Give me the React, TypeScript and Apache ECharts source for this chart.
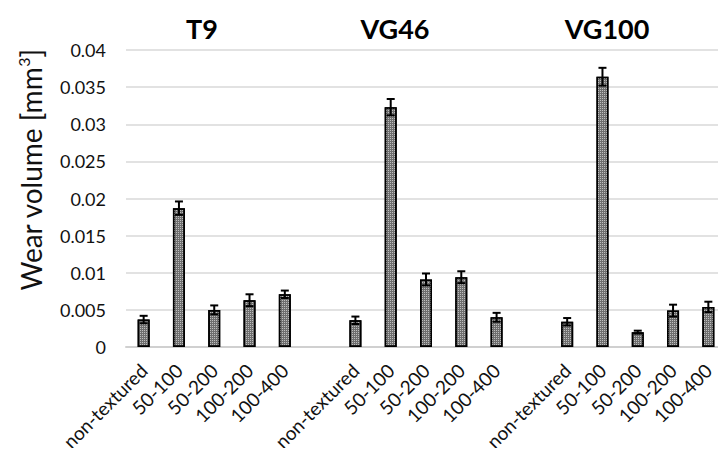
import React, { useEffect, useRef } from "react";
import * as echarts from "echarts";

const textures = ["non-textured", "50-100", "50-200", "100-200", "100-400"];
const groups = ["T9", "VG46", "VG100"];
const t9Values = [0.0037, 0.0187, 0.005, 0.0063, 0.0071];
const t9Errors = [0.0005, 0.0009, 0.0006, 0.0008, 0.0005];
const vg46Values = [0.0036, 0.0323, 0.0091, 0.0094, 0.004];
const vg46Errors = [0.0005, 0.0011, 0.0008, 0.0008, 0.0006];
const vg100Values = [0.0034, 0.0364, 0.002, 0.0049, 0.0054];
const vg100Errors = [0.0005, 0.0012, 0.0002, 0.0008, 0.0007];
const yTicks = [0, 0.005, 0.01, 0.015, 0.02, 0.025, 0.03, 0.035, 0.04];

const FONT = "Lato";

export default function App() {
  const ref = useRef<HTMLDivElement>(null);
  useEffect(() => {
    if (!ref.current) return;
    const chart = echarts.init(ref.current, undefined, { renderer: "svg" });
    const valueSets = [t9Values, vg46Values, vg100Values];
    const errorSets = [t9Errors, vg46Errors, vg100Errors];
    const categories: string[] = [];
    const barData: (number | string)[] = [];
    const errData: number[][] = [];
    groups.forEach((g, gi) => {
      if (gi > 0) {
        categories.push(" ".repeat(gi));
        barData.push("-");
      }
      textures.forEach((t, ti) => {
        const idx = categories.length;
        categories.push(t);
        barData.push(valueSets[gi][ti]);
        errData.push([idx, valueSets[gi][ti], errorSets[gi][ti]]);
      });
    });
    const titleX = [202, 395, 607];

    chart.setOption({
      animation: false,
      backgroundColor: "#fff",
      grid: { left: 126, right: -12, top: 50, bottom: 109, containLabel: false },
      xAxis: {
        type: "category",
        data: categories,
        axisLine: { lineStyle: { color: "#d0d0d0", width: 2 } },
        axisTick: { show: false },
        axisLabel: {
          interval: 0,
          rotate: 45,
          margin: 20,
          fontFamily: FONT,
          fontSize: 19,
          color: "#111",
        },
      },
      yAxis: {
        type: "value",
        min: yTicks[0],
        max: yTicks[yTicks.length - 1],
        interval: 0.005,
        axisLine: { show: false },
        axisTick: { show: false },
        splitLine: { lineStyle: { color: "#d9d9d9", width: 1.5 } },
        axisLabel: {
          margin: 20,
          fontFamily: FONT,
          fontSize: 18,
          color: "#111",
          formatter: (v: number) => String(parseFloat(v.toFixed(4))),
        },
      },
      series: [
        {
          type: "bar",
          data: barData,
          barWidth: 12,
          itemStyle: {
            color: "#6e6e6e",
            borderColor: "#000",
            borderWidth: 1.5,
            decal: {
              symbol: "rect",
              symbolSize: 1,
              color: "rgba(255,255,255,0.55)",
              dashArrayX: [1, 1],
              dashArrayY: [1, 1],
              rotation: 0,
            },
          },
        },
        {
          type: "custom",
          data: errData,
          z: 10,
          renderItem: (params: any, api: any) => {
            const x = api.value(0);
            const v = api.value(1);
            const e = api.value(2);
            const top = api.coord([x, v + e]);
            const bot = api.coord([x, v - e]);
            const hw = 4;
            const style = { stroke: "#000", lineWidth: 2 };
            return {
              type: "group",
              children: [
                { type: "line", shape: { x1: top[0], y1: top[1], x2: bot[0], y2: bot[1] }, style },
                { type: "line", shape: { x1: top[0] - hw, y1: top[1], x2: top[0] + hw, y2: top[1] }, style },
                { type: "line", shape: { x1: bot[0] - hw, y1: bot[1], x2: bot[0] + hw, y2: bot[1] }, style },
              ],
            };
          },
        },
      ],
      graphic: [
        ...groups.map((g, i) => ({
          type: "text",
          x: titleX[i],
          y: 28,
          style: {
            text: g,
            fontFamily: FONT,
            fontWeight: "bold",
            fontSize: 27,
            fill: "#000",
            textAlign: "center",
            textVerticalAlign: "middle",
          },
        })),
        {
          type: "text",
          x: 31,
          y: 170,
          rotation: Math.PI / 2,
          style: {
            text: "{a|Wear volume [mm}{s|3}{a|]}",
            textAlign: "center",
            textVerticalAlign: "middle",
            rich: {
              a: { fontFamily: FONT, fontSize: 28, fill: "#111", lineHeight: 32 },
              s: { fontFamily: FONT, fontSize: 16, fill: "#111", verticalAlign: "top", lineHeight: 32, padding: [0, 0, 10, 0] },
            },
          },
        },
      ],
    });
    return () => chart.dispose();
  }, []);
  return <div ref={ref} style={{ width: 726, height: 456, margin: -8 }} />;
}
